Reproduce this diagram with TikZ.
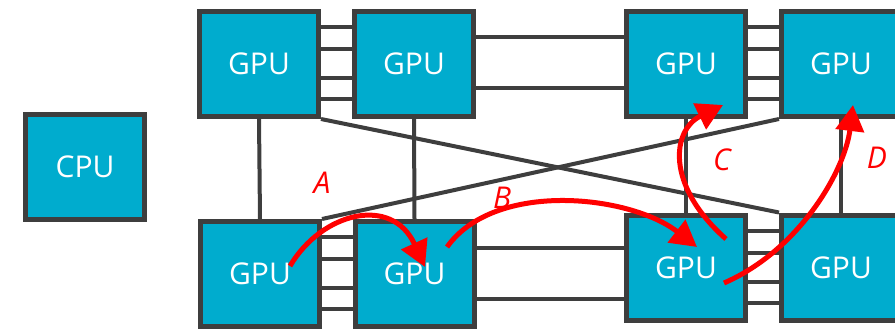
\documentclass[tikz,border=0pt]{standalone}
\usepackage{fontspec}
\setsansfont{Open Sans}
\usetikzlibrary{arrows.meta}
\definecolor{gpublue}{RGB}{0,172,206}
\definecolor{darkline}{RGB}{62,62,62}

\begin{document}
\begin{tikzpicture}[x=1pt,y=-1pt,
  chip/.style={draw=darkline,line width=5pt,fill=gpublue,minimum width=119pt,minimum height=105pt,
    inner sep=0pt,text=white,font=\sffamily\fontsize{30}{36}\selectfont},
  link/.style={darkline,line width=4pt},
  hop/.style={red,line width=5pt,-{Triangle[length=26pt,width=28pt]}},
  hoplabel/.style={text=red,font=\sffamily\itshape\fontsize{30}{36}\selectfont}]
\useasboundingbox (0,0) rectangle (895,329);
% chips
\node (CPU) [chip] at (85,167) {CPU};
\node (T1) [chip] at (259,64) {GPU};
\node (T2) [chip] at (414,64) {GPU};
\node (T3) [chip] at (686,64) {GPU};
\node (T4) [chip] at (841,64) {GPU};
\node (B1) [chip] at (260,274) {GPU};
\node (B2) [chip] at (414.5,274) {GPU};
\node (B3) [chip] at (686,267.5) {GPU};
\node (B4) [chip] at (841,267.5) {GPU};
% links
\foreach \dy in {37,15,-14,-35}{
  \draw[link] ([yshift=\dy pt]T1.east) -- ([yshift=\dy pt]T2.west);
  \draw[link] ([yshift=\dy pt]T3.east) -- ([yshift=\dy pt]T4.west);
  \draw[link] ([yshift=\dy pt]B1.east) -- ([yshift=\dy pt]B2.west);
  \draw[link] ([yshift=\dy pt]B3.east) -- ([yshift=\dy pt]B4.west);
}
\draw[link] ([yshift=27pt]T2.east) -- ([yshift=27pt]T3.west);
\draw[link] ([yshift=-24pt]T2.east) -- ([yshift=-24pt]T3.west);
\coordinate (m1) at ([yshift=26pt]B2.east);
\coordinate (m2) at ([yshift=-25pt]B2.east);
\draw[link] (m1) -- (m1 -| B3.west);
\draw[link] (m2) -- (m2 -| B3.west);
\draw[link] (T1.south) -- (B1.north);
\draw[link] (T2.south) -- (B2.north);
\draw[link] (T3.south) -- (B3.north);
\draw[link] (T4.south) -- (B4.north);
\draw[link] (T1.south east) -- (B4.north west);
\draw[link] (B1.north east) -- (T4.south west);
% hops
\coordinate (a0) at (290,266);
\coordinate (a1) at (425,267);
\coordinate (b0) at (447,247);
\coordinate (b1) at (697,247);
\coordinate (c0) at (726,239);
\coordinate (c1) at (723,105);
\coordinate (d0) at (724,283);
\coordinate (d1) at (853,105);
\draw[hop] (a0) .. controls (322,212) and (392,195) .. (a1);
\draw[hop] (b0) .. controls (495,180) and (630,195) .. (b1);
\draw[hop] (c0) .. controls (665,185) and (672,130) .. (c1);
\draw[hop] (d0) .. controls (800,250) and (845,170) .. (d1);
\node (lA) [hoplabel] at (322,183) {A};
\node (lB) [hoplabel] at (502,198) {B};
\node (lC) [hoplabel] at (722,160) {C};
\node (lD) [hoplabel] at (877,158) {D};
\end{tikzpicture}
\end{document}
